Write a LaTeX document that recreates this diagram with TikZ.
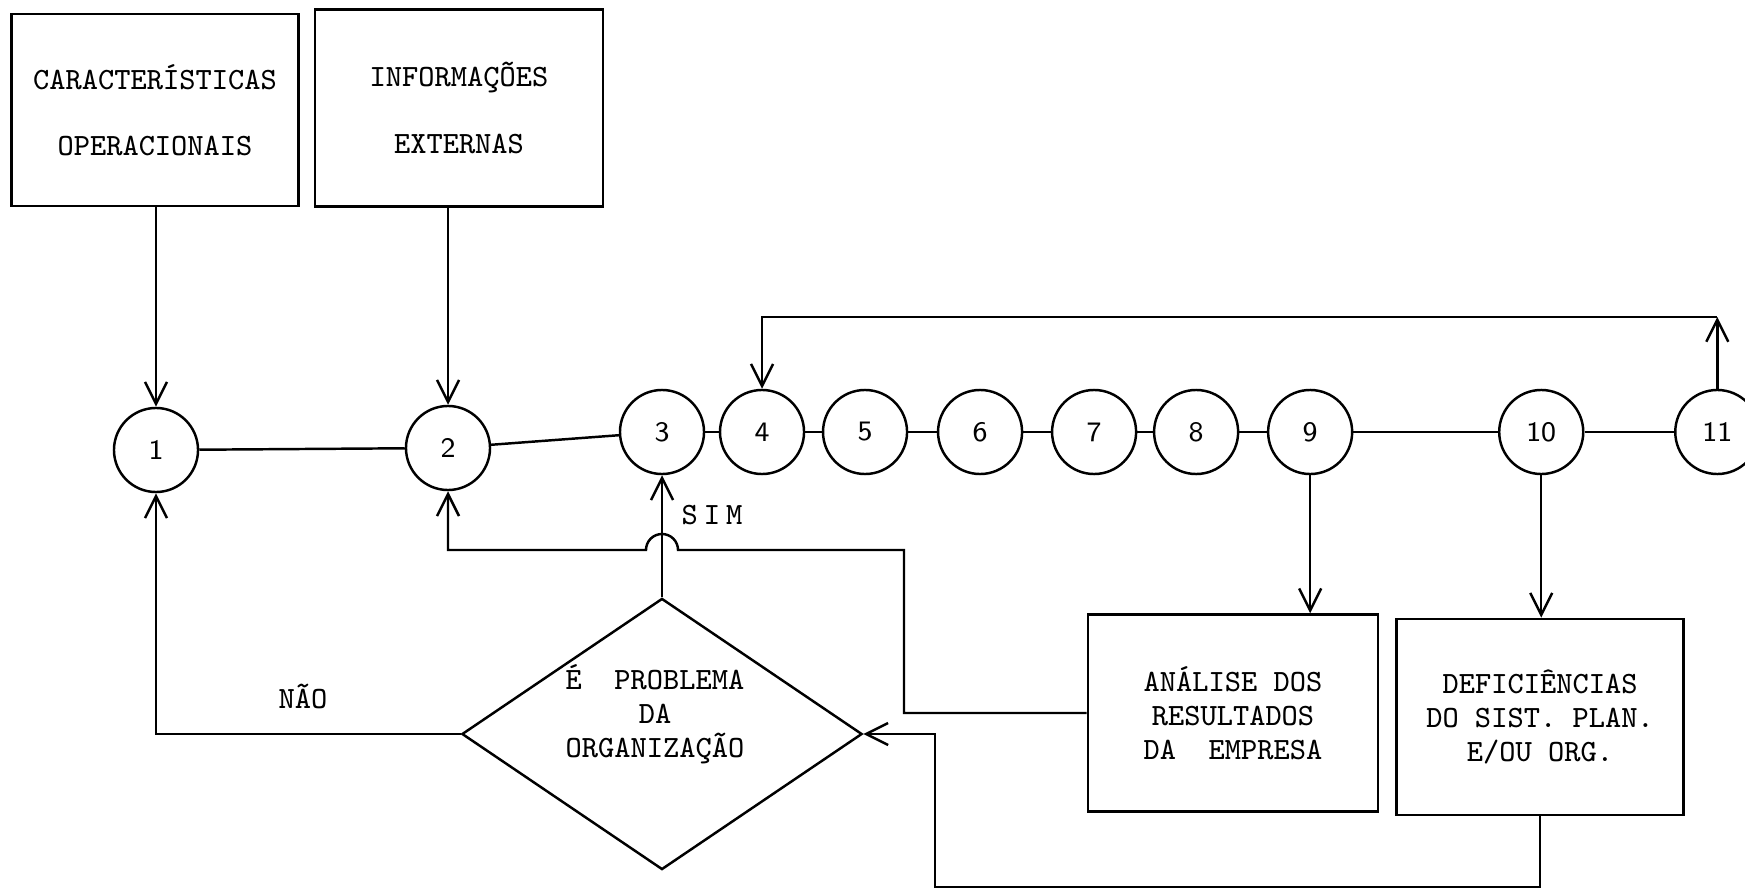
\documentclass[tikz,border=0pt]{standalone}
\usepackage{fontspec}
\usetikzlibrary{arrows.meta,positioning,shapes.geometric}
\tikzset{
  flbox/.style={
    rectangle, draw=black, line width=0.7pt, inner sep=0pt,
    align=center, font=\fontsize{8.8}{9.7}\selectfont\ttfamily
  },
  flstate/.style={
    circle, draw=black, fill=white, line width=0.7pt,
    minimum size=8.4mm, inner sep=0pt, font=\fontsize{8}{9}\selectfont\sffamily
  },
  fldecision/.style={diamond, draw=black, line width=0.7pt, inner sep=0pt},
  fledge/.style={-{Straight Barb[length=2.2mm,width=2.2mm]},line width=0.7pt},
  fllink/.style={line width=0.7pt},
  fltext/.style={font=\fontsize{8.8}{9.7}\selectfont\ttfamily,align=center,inner sep=0pt}
}

\begin{document}
\begin{tikzpicture}[x=0.01cm,y=-0.01cm]
  \useasboundingbox (0,0) rectangle (1745,891);
  % input boxes
  \node[flbox,minimum width=2.87cm,minimum height=1.92cm] (carac) at (155,110)
    {CARACTERÍSTICAS\\[3.2mm]OPERACIONAIS};
  \node[flbox,minimum width=2.88cm,minimum height=1.97cm] (info) at (459,108)
    {INFORMAÇÕES\\[3.2mm]EXTERNAS};
  % chain of steps
  \node[flstate] (c1) at (156,450) {1};
  \node[flstate] (c2) at (448,448) {2};
  \node[flstate] (c3) at (662,432) {3};
  \node[flstate,right=1.35mm of c3] (c4) {4};
  \node[flstate,right=1.65mm of c4] (c5) {5};
  \node[flstate,right=2.85mm of c5] (c6) {6};
  \node[flstate,right=2.75mm of c6] (c7) {7};
  \node[flstate,right=1.55mm of c7] (c8) {8};
  \node[flstate,right=2.75mm of c8] (c9) {9};
  \node[flstate,right=14.45mm of c9] (c10) {10};
  \node[flstate,right=8.95mm of c10] (c11) {11};
  % result boxes
  \node[flbox,minimum width=2.90cm,minimum height=1.97cm] (ana) at (1233,713)
    {ANÁLISE DOS\\RESULTADOS\\DA\ \ EMPRESA};
  \node[flbox,minimum width=2.87cm,minimum height=1.96cm] (def) at (1540,717)
    {DEFICIÊNCIAS\\DO SIST. PLAN.\\E/OU ORG.};
  % decision
  \node[fldecision,minimum width=4cm,minimum height=2.71cm] (dia) at (662,734) {};
  \node[fltext] (diatext) at (655,714) {É\ \ PROBLEMA\\DA\\ORGANIZAÇÃO};
  \node[fltext] (simlbl) at (712,515) {S\hspace{0.6mm}I\hspace{0.6mm}M};
  \node[fltext] (naolbl) at (303,696) {NÃO};
  \coordinate (loopy) at (0,317);
  \coordinate (hopc) at (662,550);

  \draw[fledge] (carac.south -| c1.north) -- (c1.north);
  \draw[fledge] (info.south -| c2.north) -- (c2.north);
  \draw[fllink] (c1) -- (c2);
  \draw[fllink] (c2) -- (c3);
  \draw[fllink] (c3) -- (c4);
  \draw[fllink] (c4) -- (c5);
  \draw[fllink] (c5) -- (c6);
  \draw[fllink] (c6) -- (c7);
  \draw[fllink] (c7) -- (c8);
  \draw[fllink] (c8) -- (c9);
  \draw[fllink] (c9) -- (c10);
  \draw[fllink] (c10) -- (c11);
  \draw[fledge] (c11.north) -- (c11.north |- loopy);
  \draw[fledge] (c11.north |- loopy) -- (c4.north |- loopy) -- (c4.north);
  \draw[fledge] (c9.south) -- (c9.south |- ana.north);
  \draw[fledge] (c10.south) -- (c10.south |- def.north);
  \draw[fledge] (dia.north) -- (c3.south);
  \draw[fledge] (dia.west) -| (c1.south);
  \draw[fledge] (ana.west) -| (904,550) -- ([xshift=1.6mm]hopc)
    arc[start angle=0,end angle=180,radius=1.6mm] -| (c2.south);
  \draw[fledge] (def.south) |- (935,887) |- (dia.east);
\end{tikzpicture}
\end{document}
